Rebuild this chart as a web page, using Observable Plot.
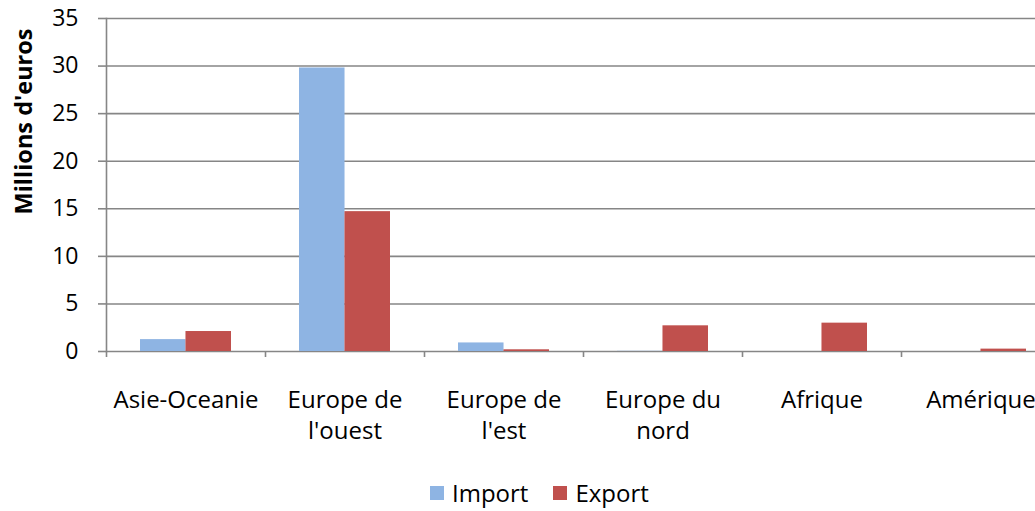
<!DOCTYPE html>
<html><head><meta charset="utf-8">
<script src="https://cdn.jsdelivr.net/npm/d3@7"></script>
<script src="https://cdn.jsdelivr.net/npm/@observablehq/plot@0.6"></script>
<style>
html,body{margin:0;padding:0;background:#fff;overflow:hidden;width:1035px;height:511px;position:relative}
#chart{position:absolute;left:0;top:0}
#legend{position:absolute;left:430px;top:477px;display:flex;align-items:center;font-family:"Open Sans",sans-serif;font-size:24px;color:#000;line-height:32px;white-space:nowrap}
#legend .item{display:flex;align-items:center;margin-right:25px}
#legend .sw{width:14px;height:14px;margin-right:8px}
</style>
</head><body><div id="chart"></div><div id="legend"></div>
<script>
const categories = ["Asie-Oceanie","Europe de l'ouest","Europe de l'est","Europe du nord","Afrique","Amérique"];
const categoryLabels = ["Asie-Oceanie","Europe de\nl'ouest","Europe de\nl'est","Europe du\nnord","Afrique","Amérique"];
const importValues = [1.25, 29.8, 0.9, 0.02, 0, 0];
const exportValues = [2.1, 14.7, 0.18, 2.7, 2.98, 0.25];
const yTicks = [0,5,10,15,20,25,30,35];
const seriesNames = ["Import","Export"];
const seriesColors = ["#8EB4E3","#C0504D"];
const yTitle = "Millions d'euros";

const data = categories.flatMap((c,i)=>[
  {category:c, series:seriesNames[0], value:importValues[i]},
  {category:c, series:seriesNames[1], value:exportValues[i]}
]);

const W = 1060, H = 470, ML = 106, MT = 18, MB = 119;
const padInner = 0.428;
const step = (W - ML) / categories.length;
const half = step * (1 - padInner) / 2;
const gridColor = "#868686";

const chart = Plot.plot({
  width: W, height: H,
  marginLeft: ML, marginRight: 0, marginTop: MT, marginBottom: MB,
  style: {fontFamily: "'Open Sans', sans-serif", fontSize: "24px", color: "#000", maxWidth: "none", background: "#fff"},
  x: {domain: categories, paddingInner: padInner, paddingOuter: padInner/2},
  y: {domain: [0, 35]},
  marks: [
    Plot.gridY(yTicks, {stroke: gridColor, strokeOpacity: 1, strokeWidth: 1.6}),
    Plot.frame({anchor: "left", stroke: gridColor, strokeWidth: 1.6}),
    Plot.ruleX(categories, {x: d => d, y1: 0, y2: 0, insetBottom: -6, dx: -step/2, stroke: gridColor, strokeWidth: 1.6}),
    Plot.barY(data.filter(d => d.series === seriesNames[0]), {x: "category", y: "value", fill: seriesColors[0], insetRight: half}),
    Plot.barY(data.filter(d => d.series === seriesNames[1]), {x: "category", y: "value", fill: seriesColors[1], insetLeft: half}),
    Plot.axisY(yTicks, {tickSize: 8, tickPadding: 20, stroke: gridColor, strokeWidth: 1.6, fontSize: 23, label: null, fill: "#000"}),
    Plot.axisX({tickSize: 0, tickPadding: 34, tickFormat: d => categoryLabels[categories.indexOf(d)], fontSize: 24, lineHeight: 1.3, label: null, fill: "#000"}),
    Plot.text([yTitle], {text: d => d, frameAnchor: "top-left", rotate: -90, textAnchor: "end", lineAnchor: "middle", dx: -82, dy: 10, fontWeight: "bold", fontSize: 23.5, fill: "#000"})
  ]
});
document.getElementById("chart").appendChild(chart);

const legend = document.getElementById("legend");
seriesNames.forEach((s,i)=>{
  const item = document.createElement("div"); item.className = "item";
  const sw = document.createElement("div"); sw.className = "sw"; sw.style.background = seriesColors[i];
  const t = document.createElement("span"); t.textContent = s;
  item.appendChild(sw); item.appendChild(t); legend.appendChild(item);
});
</script>
</body></html>
